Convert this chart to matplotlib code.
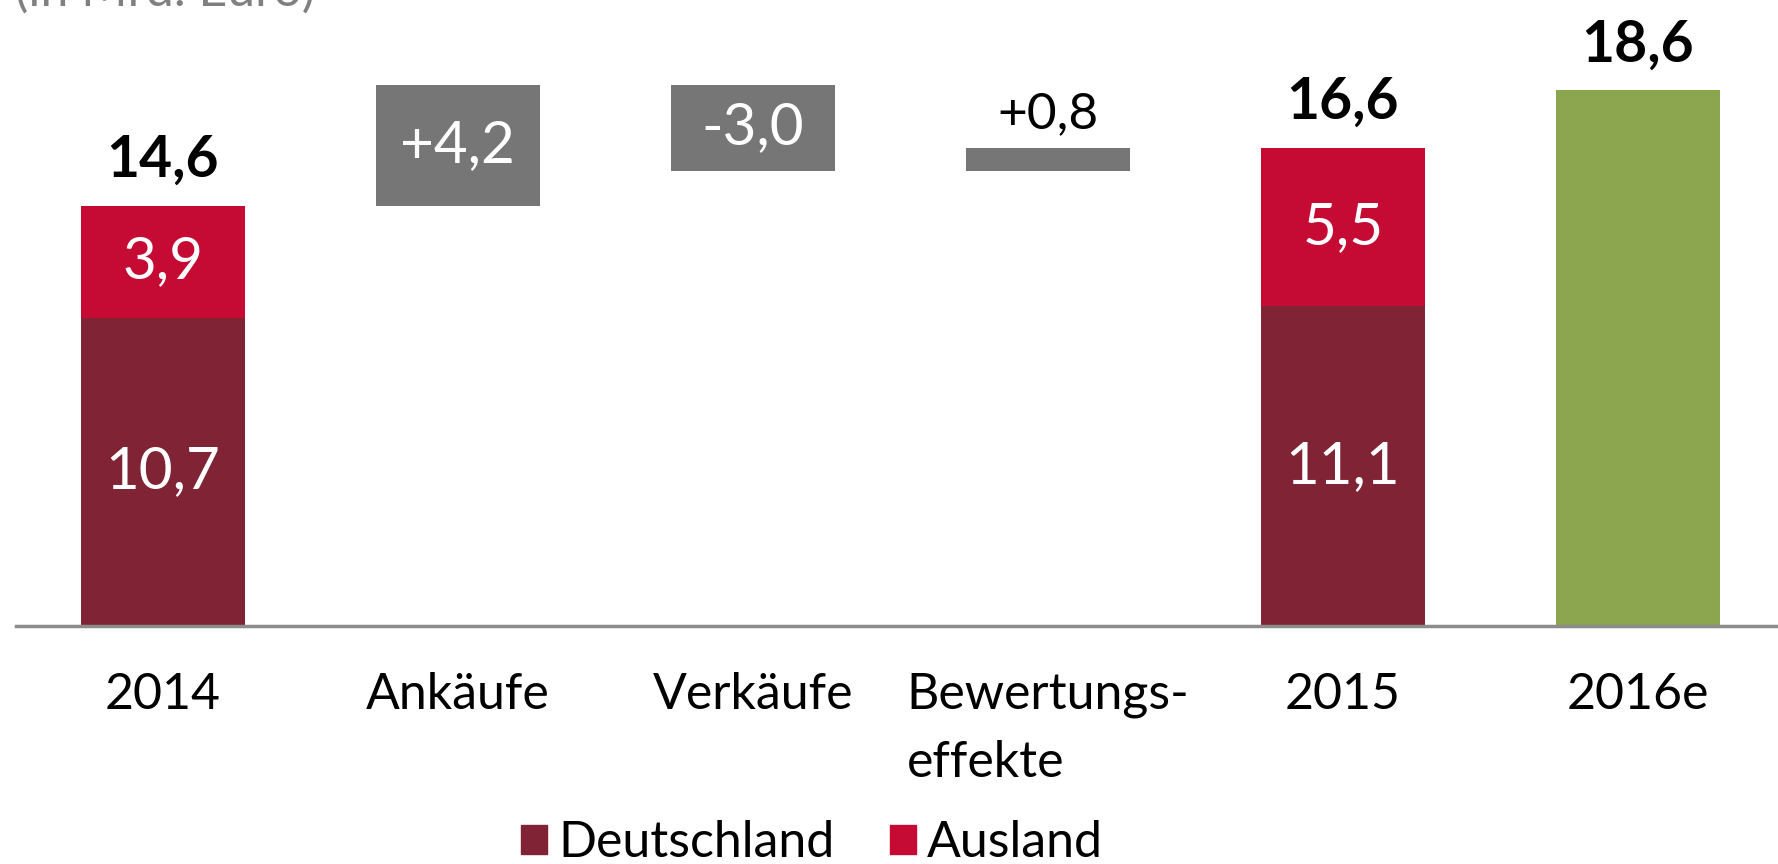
import matplotlib
matplotlib.use("Agg")
import matplotlib.pyplot as plt
from matplotlib.patches import Patch

plt.rcParams['font.family'] = ['Lato', 'DejaVu Sans']

categories = ["2014", "Ankäufe", "Verkäufe", "Bewertungs-\neffekte", "2015", "2016e"]
deutschland = [10.7, 11.1]          # 2014, 2015
ausland = [3.9, 5.5]                # 2014, 2015
changes = [4.2, -3.0, 0.8]          # Ankäufe, Verkäufe, Bewertungseffekte
forecast_2016 = 18.6

C_DE = "#7f2335"
C_AUS = "#c50b34"
C_GRAY = "#767676"
C_GREEN = "#8ba64f"
FS = 36       # axis / legend text
FS_IN = 42    # labels inside bars
FS_TOT = 41   # bold totals


def fmt(v, sign=False):
    s = f"{v:+.1f}" if sign else f"{v:.1f}"
    return s.replace(".", ",")


fig = plt.figure(figsize=(17.78, 8.64), dpi=100)
ax = fig.add_axes([16 / 1778, 238 / 864, 1 - 16 / 1778, 1 - 238 / 864])
W = 0.558

# stacked years
for x, de, au in [(0, deutschland[0], ausland[0]), (4, deutschland[1], ausland[1])]:
    ax.bar(x, de, W, color=C_DE, zorder=2)
    ax.bar(x, au, W, bottom=de, color=C_AUS, zorder=2)
    ax.text(x, de / 2, fmt(de), ha="center", va="center", color="white", fontsize=FS_IN)
    ax.text(x, de + au / 2, fmt(au), ha="center", va="center", color="white", fontsize=FS_IN)
    ax.annotate(fmt(de + au), (x, de + au), xytext=(0, 21), textcoords="offset points",
                ha="center", va="baseline", fontsize=FS_TOT, fontweight="bold", color="black")

# waterfall steps
level = deutschland[0] + ausland[0]
for i, ch in enumerate(changes):
    x = i + 1
    lo, hi = min(level, level + ch), max(level, level + ch)
    ax.bar(x, hi - lo, W, bottom=lo, color=C_GRAY, zorder=2)
    if hi - lo >= 1.5:
        ax.text(x, (lo + hi) / 2, fmt(ch, sign=True), ha="center", va="center",
                color="white", fontsize=FS_IN)
    else:
        ax.annotate(fmt(ch, sign=True), (x, hi), xytext=(0, 14), textcoords="offset points",
                    ha="center", va="baseline", fontsize=FS + 1, color="black")
    level += ch

# forecast
ax.bar(5, forecast_2016, W, color=C_GREEN, zorder=2)
ax.annotate(fmt(forecast_2016), (5, forecast_2016), xytext=(0, 21), textcoords="offset points",
            ha="center", va="baseline", fontsize=FS_TOT, fontweight="bold", color="black")

ax.set_xlim(-0.498, 5.475)
ax.set_ylim(0, 21.74)
ax.set_xticks(range(len(categories)))
ax.set_xticklabels(categories, fontsize=FS, linespacing=1.6, multialignment="left")
ax.tick_params(axis="x", length=0, pad=33)
ax.set_yticks([])
for s in ["top", "left", "right"]:
    ax.spines[s].set_visible(False)
ax.spines["bottom"].set_color("#8c8c8c")
ax.spines["bottom"].set_linewidth(2.5)
ax.set_facecolor("none")

fig.text(15 / 1778, 1 - 6 / 864, "(in Mrd. Euro)", fontsize=FS, color="#808080",
         ha="left", va="baseline")

handles = [Patch(color=C_DE, label="Deutschland"), Patch(color=C_AUS, label="Ausland")]
fig.legend(handles=handles, loc="lower center", bbox_to_anchor=(812 / 1778, -0.026), ncol=2,
           frameon=False, fontsize=FS, handlelength=0.52, handleheight=0.52,
           handletextpad=0.22, columnspacing=1.1, borderaxespad=0)

fig.savefig("out.png", dpi=100)
